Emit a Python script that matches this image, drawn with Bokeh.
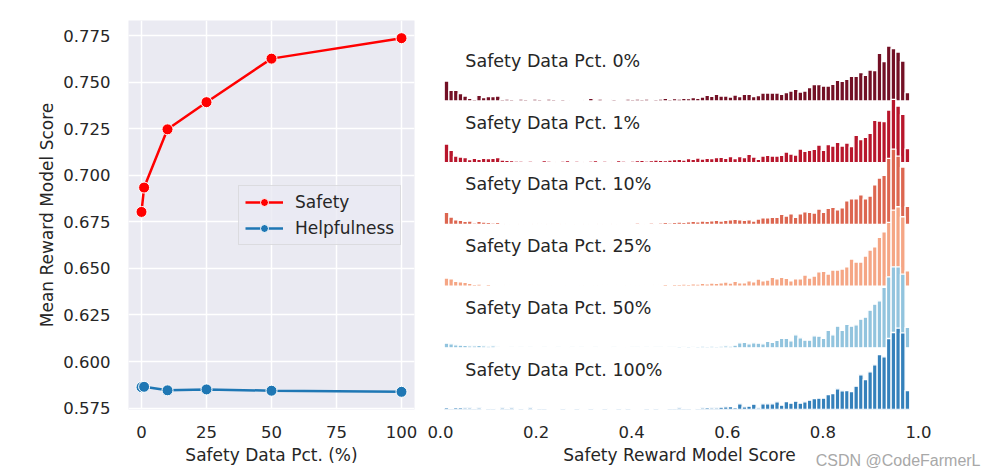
from bokeh.plotting import figure
from bokeh.layouts import row
from bokeh.models import FixedTicker, PrintfTickFormatter, Range1d, Label, Title
from bokeh.embed import file_html
from bokeh.resources import INLINE
import numpy as np

# ---------------- data: left panel ----------------
pct = [0, 1, 10, 25, 50, 100]
safety_mean = [0.6804, 0.6935, 0.7248, 0.7394, 0.7628, 0.7738]
helpful_mean = [0.5862, 0.5864, 0.5845, 0.5850, 0.5843, 0.5837]
x_ticks_left = [0, 25, 50, 75, 100]
y_ticks_left = [0.575, 0.600, 0.625, 0.650, 0.675, 0.700, 0.725, 0.750, 0.775]

# ---------------- data: right panel (histogram bin heights, 100 bins) ----------------
row_labels = ["Safety Data Pct. 0%", "Safety Data Pct. 1%", "Safety Data Pct. 10%",
              "Safety Data Pct. 25%", "Safety Data Pct. 50%", "Safety Data Pct. 100%"]
row_colors = ["#731025", "#b8162c", "#dc6650", "#f5a685", "#92c4de", "#3581bb"]

counts_0 = [60, 32, 32, 22, 15, 8, 5, 17, 10, 13, 13, 15,
            5, 6, 5, 4, 6, 5, 4, 6, 5, 4, 6, 5, 4, 5, 4, 3, 0, 0,
            4, 8, 0, 6, 3, 4, 5, 3, 4, 6, 5, 6, 5, 6, 4, 5,
            6, 8, 5, 7, 6, 8, 7, 10, 8, 12, 17, 14, 20, 15, 15, 12,
            18, 13, 20, 20, 13, 16, 24, 24, 24, 24, 20, 25, 30, 35, 27, 30, 40, 49, 49, 45,
            45, 50, 62, 59, 65, 74, 74, 85, 77, 93, 91, 143, 118, 165, 157, 147, 120, 25]
counts_1 = [56, 37, 20, 17, 15, 9, 13, 10, 13, 12, 13, 15,
            8, 7, 6, 5, 5, 4, 5, 3, 4, 6, 5, 3, 4, 5, 6, 4, 5, 3,
            4, 5, 6, 4, 5, 3, 4, 6, 5, 4, 5, 6, 7, 5, 6, 8,
            7, 6, 8, 9, 10, 8, 12, 10, 14, 11, 13, 12, 15, 16, 13, 18,
            12, 18, 15, 25, 17, 10, 20, 22, 20, 20, 22, 32, 26, 23, 41, 34, 37, 40, 53, 37,
            54, 50, 61, 50, 59, 48, 82, 69, 76, 88, 127, 125, 123, 158, 190, 170, 145, 42]
counts_2 = [36, 22, 14, 12, 9, 10, 5, 9, 7, 6, 5, 6,
            4, 3, 4, 3, 3, 4, 3, 3, 0, 4, 3, 0, 0, 3, 0, 0, 4, 3,
            3, 0, 3, 4, 3, 3, 4, 0, 4, 0, 3, 5, 4, 3, 5, 4,
            5, 6, 5, 6, 7, 6, 8, 9, 8, 10, 9, 11, 12, 10, 12, 14,
            15, 14, 12, 14, 10, 16, 20, 20, 21, 21, 30, 25, 32, 21, 32, 38, 36, 34, 46, 36,
            48, 51, 44, 50, 71, 77, 77, 89, 77, 85, 119, 139, 147, 198, 226, 205, 172, 54]
counts_3 = [24, 22, 14, 13, 11, 8, 5, 6, 4, 5, 3, 4,
            3, 4, 3, 4, 3, 4, 3, 4, 3, 0, 3, 0, 0, 3, 0, 0, 3, 0,
            3, 3, 0, 3, 4, 3, 0, 4, 3, 3, 4, 0, 3, 4, 3, 4,
            4, 5, 4, 5, 5, 6, 5, 7, 6, 8, 7, 9, 8, 10, 12, 9,
            14, 10, 10, 16, 13, 21, 16, 18, 26, 22, 26, 23, 16, 22, 22, 33, 24, 30, 43, 44,
            36, 48, 48, 51, 58, 81, 72, 72, 90, 108, 118, 146, 163, 191, 228, 238, 208, 46]
counts_4 = [14, 12, 9, 8, 7, 6, 6, 7, 6, 5, 6, 3,
            0, 0, 3, 2, 3, 0, 3, 2, 2, 3, 0, 2, 3, 0, 2, 3, 2, 3,
            0, 0, 3, 2, 2, 0, 3, 2, 0, 2, 3, 3, 2, 3, 2, 3,
            3, 2, 3, 3, 4, 3, 4, 3, 4, 5, 4, 5, 4, 5, 6, 5,
            8, 15, 16, 12, 15, 14, 12, 19, 16, 22, 28, 28, 21, 39, 30, 23, 23, 36, 35, 28,
            52, 39, 65, 52, 70, 65, 69, 86, 92, 113, 131, 141, 181, 213, 243, 243, 221, 61]
counts_5 = [6, 3, 6, 6, 5, 5, 3, 5, 0, 4, 3, 0,
            5, 4, 5, 0, 4, 0, 5, 0, 4, 4, 0, 0, 0, 3, 0, 0, 4, 0,
            0, 3, 0, 0, 4, 0, 0, 3, 0, 4, 0, 0, 0, 3, 0, 3,
            0, 0, 4, 3, 5, 3, 4, 0, 3, 5, 6, 5, 5, 7, 8, 9,
            6, 17, 8, 10, 16, 5, 17, 17, 17, 23, 13, 24, 19, 25, 19, 23, 28, 33, 34, 34,
            45, 48, 62, 56, 57, 54, 70, 104, 90, 113, 134, 165, 158, 213, 231, 244, 230, 57]
all_counts = [counts_0, counts_1, counts_2, counts_3, counts_4, counts_5]
x_ticks_right = [0.0, 0.2, 0.4, 0.6, 0.8, 1.0]

bin_edges = np.linspace(0.0077, 0.9817, 101)
bin_centers = (bin_edges[:-1] + bin_edges[1:]) / 2
bin_w = bin_edges[1] - bin_edges[0]

FONT = "DejaVu Sans"
TXT = "#262626"

# ---------------- left figure ----------------
p1 = figure(width=420, height=474, output_backend="svg", toolbar_location=None,
            x_range=Range1d(-5, 105), y_range=Range1d(0.5742, 0.7833),
            min_border_left=128, min_border_right=6, min_border_top=20, min_border_bottom=65)
p1.background_fill_color = "#EAEAF2"
p1.border_fill_color = "white"
p1.outline_line_color = None
p1.grid.grid_line_color = "white"
p1.grid.grid_line_width = 1.5
p1.xaxis.ticker = FixedTicker(ticks=x_ticks_left)
p1.yaxis.ticker = FixedTicker(ticks=y_ticks_left)
p1.yaxis.formatter = PrintfTickFormatter(format="%.3f")
for ax in (p1.xaxis, p1.yaxis):
    ax.axis_line_color = None
    ax.major_tick_line_color = None
    ax.minor_tick_line_color = None
    ax.major_label_text_font = FONT
    ax.major_label_text_font_size = "16.5px"
    ax.major_label_text_color = TXT
    ax.axis_label_text_font = FONT
    ax.axis_label_text_font_size = "17px"
    ax.axis_label_text_font_style = "normal"
    ax.axis_label_text_color = TXT
p1.xaxis.axis_label = "Safety Data Pct. (%)"
p1.yaxis.axis_label = "Mean Reward Model Score"
p1.xaxis.major_label_standoff = 10
p1.xaxis.axis_label_standoff = 4
p1.yaxis.major_label_standoff = 12
p1.yaxis.axis_label_standoff = 3

p1.line(pct, safety_mean, color="#ff0000", line_width=2.5, legend_label="Safety")
p1.scatter(pct, safety_mean, size=11, fill_color="#ff0000", line_color="white",
           line_width=1, legend_label="Safety")
p1.line(pct, helpful_mean, color="#1f77b4", line_width=2.5, legend_label="Helpfulness")
p1.scatter(pct, helpful_mean, size=11, fill_color="#1f77b4", line_color="white",
           line_width=1, legend_label="Helpfulness")

lg = p1.legend[0]
lg.location = (110, 164)
lg.background_fill_color = "#EAEAF2"
lg.background_fill_alpha = 0.8
lg.border_line_color = "#cccccc"
lg.border_line_width = 1
lg.label_text_font = FONT
lg.label_text_font_size = "17px"
lg.label_text_color = TXT
lg.glyph_width = 38
lg.glyph_height = 20
lg.label_height = 20
lg.label_standoff = 12
lg.spacing = 6
lg.padding = 6
lg.margin = 0

# ---------------- right figure ----------------
p2 = figure(width=576, height=474, output_backend="svg", toolbar_location=None,
            x_range=Range1d(0, 1), y_range=Range1d(0, 389),
            min_border_left=20, min_border_right=78, min_border_top=20, min_border_bottom=65)
p2.background_fill_color = "white"
p2.border_fill_color = "white"
p2.outline_line_color = None
p2.grid.grid_line_color = None
p2.yaxis.visible = False
p2.xaxis.ticker = FixedTicker(ticks=x_ticks_right)
p2.xaxis.formatter = PrintfTickFormatter(format="%.1f")
p2.xaxis.axis_line_color = None
p2.xaxis.major_tick_line_color = None
p2.xaxis.minor_tick_line_color = None
p2.xaxis.major_label_text_font = FONT
p2.xaxis.major_label_text_font_size = "16.5px"
p2.xaxis.major_label_text_color = TXT
p2.xaxis.major_label_standoff = 10
p2.xaxis.axis_label = "Safety Reward Model Score"
p2.xaxis.axis_label_text_font = FONT
p2.xaxis.axis_label_text_font_size = "17px"
p2.xaxis.axis_label_text_font_style = "normal"
p2.xaxis.axis_label_text_color = TXT
p2.xaxis.axis_label_standoff = 4

row_gap = 61.7
px_per_unit = 1.0 / 3.0
for i, (counts, color, lab) in enumerate(zip(all_counts, row_colors, row_labels)):
    base = (5 - i) * row_gap
    tops = [base + c * px_per_unit for c in counts]
    p2.vbar(x=bin_centers, width=bin_w, bottom=base, top=tops,
            fill_color=color, line_color="white", line_width=1.3)
    p2.add_layout(Label(x=0.052, y=base + 40, text=lab, text_font=FONT,
                        text_font_size="17.5px", text_color=TXT, text_baseline="middle",
                        text_align="left"))

wm = Title(text="CSDN @CodeFarmerL", align="right", vertical_align="top",
           text_font="Liberation Sans", text_font_size="16px", text_color="#a8a8a8",
           text_font_style="normal", standoff=-32, offset=-62)
p2.add_layout(wm, "below")

layout = row(p1, p2)
open("out.html", "w").write(file_html(layout, INLINE))
